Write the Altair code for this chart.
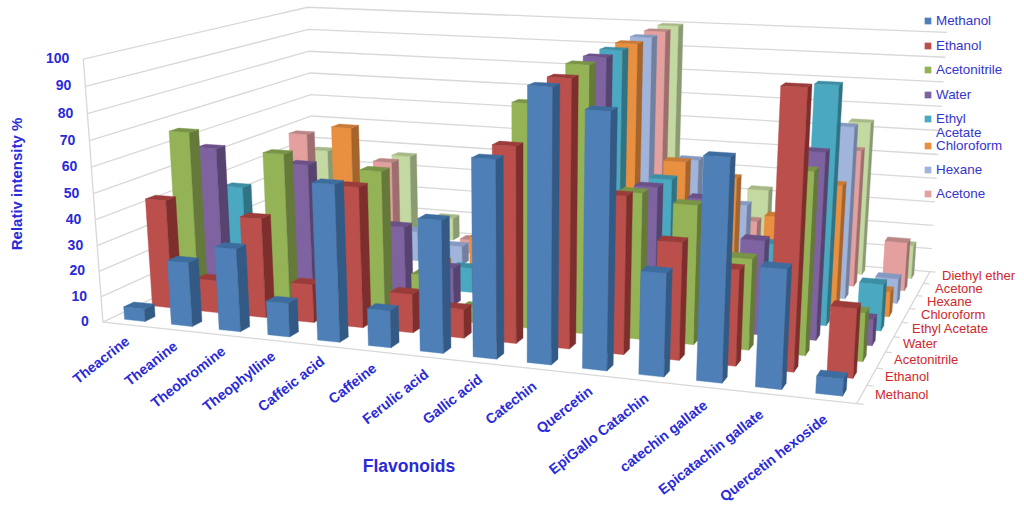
import altair as alt
import numpy as np

categories = ["Theacrine", "Theanine", "Theobromine", "Theophylline", "Caffeic acid", "Caffeine",
              "Ferulic acid", "Gallic acid", "Catechin", "Quercetin", "EpiGallo Catachin",
              "catechin gallate", "Epicatachin gallate", "Quercetin hexoside"]
solvents = ["Methanol", "Ethanol", "Acetonitrile", "Water", "Ethyl Acetate", "Chloroform",
            "Hexane", "Acetone", "Diethyl ether"]

methanol = [5, 25, 32, 13, 59, 14, 49, 72, 98, 91, 37, 78, 42, 6]
ethanol = [43, 13, 39, 15, 54, 15, 11, 73, 98, 58, 43, 35, 99, 25]
acetonitrile = [66, 0, 60, 0, 56, 17, 6, 85, 100, 55, 52, 34, 67, 18]
water = [56, 0, 52, 0, 30, 15, 0, 0, 100, 53, 50, 36, 70, 10]
ethyl_acetate = [36, 0, 0, 0, 0, 10, 0, 0, 100, 52, 0, 30, 91, 18]
chloroform = [0, 0, 60, 0, 6, 18, 0, 0, 100, 55, 50, 36, 50, 10]
hexane = [0, 0, 0, 13, 8, 0, 0, 0, 100, 52, 35, 0, 69, 10]
acetone = [48, 0, 38, 0, 6, 0, 0, 0, 100, 0, 24, 0, 56, 20]
diethyl_ether = [37, 0, 37, 10, 0, 0, 0, 0, 100, 0, 33, 0, 64, 14]
series = [methanol, ethanol, acetonitrile, water, ethyl_acetate, chloroform, hexane, acetone, diethyl_ether]

front = ["#4e7fb7", "#bb4f4c", "#94b356", "#7e63a0", "#4aa8c0", "#e8903f", "#a0b4dc", "#e3a09e", "#c4d8a2"]
side = ["#335a85", "#7e2f2d", "#65793a", "#56436f", "#2f7385", "#a5642b", "#71809f", "#9c6f6e", "#8a9b72"]
top = ["#3d6c9f", "#9b3c3a", "#7a9447", "#6b5188", "#3c8ea3", "#c97a35", "#8699c0", "#b98684", "#a6b987"]

legend_rows = [("Methanol", 21, 0), ("Ethanol", 46, 1), ("Acetonitrile", 70, 2), ("Water", 95, 3),
               ("Ethyl", 119, 4), ("Acetate", 132.5, None), ("Chloroform", 146, 5), ("Hexane", 170, 6),
               ("Acetone", 194, 7)]
depth_label_pos = [(875, 395), (885, 377), (894, 360), (903, 344), (912, 329), (921, 315), (927, 302),
                   (935, 289), (942, 275.5)]
cat_label_pos = [(128, 340), (176, 345), (224, 350), (274, 355), (323, 360), (375, 367), (427, 373), (481, 378),
                 (535, 385), (591, 390), (647, 397), (706, 404), (762, 413), (826, 418)]

# Perspective camera solved from the box corners (u along categories, v into depth, h percent).
world = [(0, 0, 0), (0, 0, 100), (0, 1, 0), (0, 1, 100), (1, 1, 0), (1, 1, 100), (1, 0, 0)]
screen = [(103, 320), (83, 60), (315, 223), (308, 6), (930, 270), (947, 33), (857, 405)]
A, b = [], []
for (u, v, h), (px, py) in zip(world, screen):
    A.append([u, v, h, 1, 0, 0, 0, 0, -px * u, -px * v, -px * h])
    b.append(px)
    A.append([0, 0, 0, 0, u, v, h, 1, -py * u, -py * v, -py * h])
    b.append(py)
cam = np.append(np.linalg.lstsq(np.array(A, float), np.array(b, float), rcond=None)[0], 1).reshape(3, 4)


def project(u, v, h):
    x, y, w = cam @ np.array([u, v, h, 1.0])
    return [round(float(x / w), 2), round(float(y / w), 2)]


def face(points, fill):
    ring = [project(*p) for p in points]
    ring.append(ring[0])
    return {"type": "Feature", "geometry": {"type": "Polygon", "coordinates": [ring]},
            "properties": {"fill": fill}}


def line(points):
    return {"type": "Feature", "geometry": {"type": "LineString", "coordinates": [project(*p) for p in points]},
            "properties": {}}


BAR_U, BAR_V = 0.44, 0.36
OFF_U, OFF_V = 0.28, 0.30
n_u, n_v = len(categories), len(solvents)

faces = []
for d in range(n_v - 1, -1, -1):
    for c in range(n_u):
        val = series[d][c]
        if val <= 0:
            continue
        u0, u1 = (c + OFF_U) / n_u, (c + OFF_U + BAR_U) / n_u
        v0, v1 = (d + OFF_V) / n_v, (d + OFF_V + BAR_V) / n_v
        faces.append(face([(u0, v0, 0), (u1, v0, 0), (u1, v0, val), (u0, v0, val)], front[d]))
        faces.append(face([(u1, v0, 0), (u1, v1, 0), (u1, v1, val), (u1, v0, val)], side[d]))
        faces.append(face([(u0, v0, val), (u1, v0, val), (u1, v1, val), (u0, v1, val)], top[d]))

grid = [line([(0, 0, t), (0, 1, t), (1, 1, t)]) for t in range(0, 101, 10)]
grid.append(line([(0, 0, 0), (0, 0, 100)]))
grid.append(line([(0, 0, 0), (1, 0, 0), (1, 1, 0)]))
for d in range(n_v + 1):
    grid.append(line([(1, d / n_v, 0), (1.008, d / n_v, 0)]))

identity = dict(type="identity", scale=1, translate=[0, 0])
px_x = alt.X("x:Q", scale=None, axis=None)
px_y = alt.Y("y:Q", scale=None, axis=None)

grid_layer = alt.Chart(alt.Data(values=grid)).mark_geoshape(
    filled=False, stroke="#d8d8d8", strokeWidth=1.3).project(**identity)
bar_layer = alt.Chart(alt.Data(values=faces)).mark_geoshape(strokeWidth=0.4).encode(
    fill=alt.Fill("properties.fill:N", scale=None),
    stroke=alt.Stroke("properties.fill:N", scale=None),
).project(**identity)


def text_layer(rows, **style):
    return alt.Chart(alt.Data(values=rows)).mark_text(font="Liberation Sans", **style).encode(
        x=px_x, y=px_y, text="t:N")


y_rows = []
for t in range(0, 101, 10):
    x, y = project(0, 0, t)
    y_rows.append({"x": x - 14, "y": y, "t": str(t)})

cat_rows = [{"x": x, "y": y, "t": t} for t, (x, y) in zip(categories, cat_label_pos)]
depth_rows = [{"x": x, "y": y, "t": t} for t, (x, y) in zip(solvents, depth_label_pos)]
legend_text = [{"x": 936, "y": y, "t": t} for t, y, _ in legend_rows]
legend_marks = [{"x": 928, "y": y, "c": front[i]} for _, y, i in legend_rows if i is not None]

chart = alt.layer(
    grid_layer,
    bar_layer,
    text_layer(y_rows, fontSize=14, fontWeight="bold", color="#2a2ad8", align="right", baseline="middle"),
    text_layer(cat_rows, fontSize=14.2, fontWeight="bold", color="#2a2ad8", align="right", baseline="middle", angle=322),
    text_layer(depth_rows, fontSize=13, color="#d0282c", align="left", baseline="middle"),
    text_layer(legend_text, fontSize=13.4, color="#3535cc", align="left", baseline="middle"),
    alt.Chart(alt.Data(values=legend_marks)).mark_square(size=45, opacity=1).encode(
        x=px_x, y=px_y, color=alt.Color("c:N", scale=None)),
    text_layer([{"x": 17, "y": 184, "t": "Relativ intensity  %"}], fontSize=15, fontWeight="bold",
               color="#2a2ad8", align="center", baseline="middle", angle=270),
    text_layer([{"x": 409, "y": 467, "t": "Flavonoids"}], fontSize=17.5, fontWeight="bold",
               color="#2a2ad8", align="center", baseline="middle"),
).properties(width=1024, height=507, padding=0, autosize=alt.AutoSizeParams(type="none"),
             background="white").configure_view(stroke=None)

chart.save("out.html", embed_options={"renderer": "svg", "actions": False})
